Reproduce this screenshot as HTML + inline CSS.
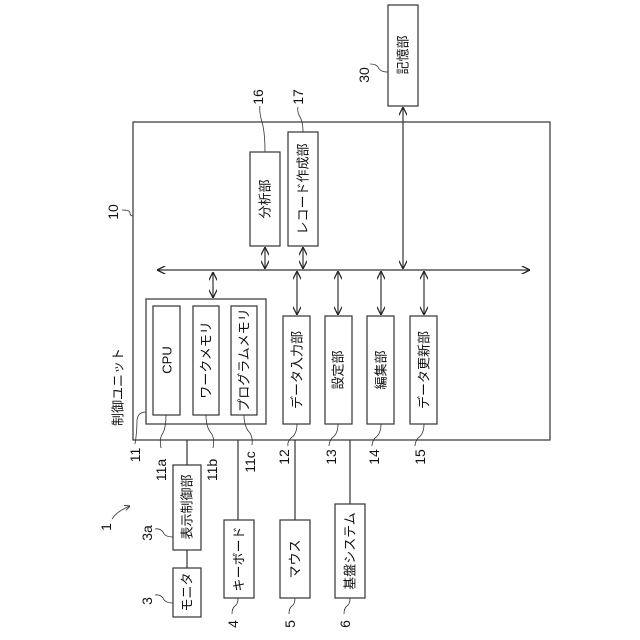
<!DOCTYPE html>
<html><head><meta charset="utf-8"><style>
html,body{margin:0;padding:0;background:#fff;}
svg{display:block;}
text{font-family:"Liberation Sans","Noto Sans CJK JP",sans-serif;fill:#111;}
.b{font-size:13px;}
.n{font-size:14px;}
</style></head><body>
<svg width="640" height="640" viewBox="0 0 640 640" xmlns="http://www.w3.org/2000/svg">
<defs>
<marker id="a" viewBox="0 0 10 10" refX="10" refY="5" markerWidth="7" markerHeight="7" orient="auto-start-reverse"><path d="M0,0 L10,5 L0,10" fill="none" stroke="#222" stroke-width="1.5"/></marker>
</defs>
<g fill="none" stroke="#333" stroke-width="1.2">
<rect x="133" y="122" width="417" height="318"/>
<rect x="146" y="299" width="120" height="125"/>
<rect x="153" y="306" width="27" height="109"/>
<rect x="193" y="306" width="26" height="109"/>
<rect x="231" y="306" width="26" height="109"/>
<rect x="283" y="316" width="27" height="108"/>
<rect x="325" y="316" width="27" height="108"/>
<rect x="367" y="316" width="27" height="108"/>
<rect x="410" y="316" width="27" height="108"/>
<rect x="250" y="152" width="30" height="94"/>
<rect x="288" y="132" width="30" height="114"/>
<rect x="388" y="5" width="30" height="101"/>
<rect x="173" y="465" width="28" height="85"/>
<rect x="173" y="568" width="28" height="49"/>
<rect x="224" y="520" width="30" height="78"/>
<rect x="280" y="520" width="30" height="78"/>
<rect x="335" y="504" width="30" height="94"/>
<!-- bus -->
<line x1="157" y1="270" x2="530" y2="270" marker-start="url(#a)" marker-end="url(#a)"/>
<line x1="213" y1="272" x2="213" y2="298" marker-start="url(#a)" marker-end="url(#a)"/>
<line x1="265" y1="247" x2="265" y2="269" marker-start="url(#a)" marker-end="url(#a)"/>
<line x1="303" y1="247" x2="303" y2="269" marker-start="url(#a)" marker-end="url(#a)"/>
<line x1="297" y1="271" x2="297" y2="315" marker-start="url(#a)" marker-end="url(#a)"/>
<line x1="338" y1="271" x2="338" y2="315" marker-start="url(#a)" marker-end="url(#a)"/>
<line x1="381" y1="271" x2="381" y2="315" marker-start="url(#a)" marker-end="url(#a)"/>
<line x1="424" y1="271" x2="424" y2="315" marker-start="url(#a)" marker-end="url(#a)"/>
<line x1="403" y1="107" x2="403" y2="269" marker-start="url(#a)" marker-end="url(#a)"/>
<!-- external lines -->
<line x1="187" y1="440" x2="187" y2="465"/>
<line x1="187" y1="550" x2="187" y2="568"/>
<line x1="238" y1="440" x2="238" y2="520"/>
<line x1="295" y1="440" x2="295" y2="520"/>
<line x1="350" y1="440" x2="350" y2="504"/>
<!-- leaders -->
<path d="M146,412 q-8,0 -9,8 q0,12 -2,24" stroke-width="0.8"/>
<path d="M166,415 q0,12 -3,18 q-4,5 -2,15" stroke-width="0.8"/>
<path d="M206,415 q0,12 5,18 q4,5 2,15" stroke-width="0.8"/>
<path d="M244,415 q0,12 6,18 q3,5 2,12" stroke-width="0.8"/>
<path d="M297,424 q0,10 -6,14 q-4,4 -3,8" stroke-width="0.8"/>
<path d="M338,424 q0,10 -6,14 q-3,4 -3,8" stroke-width="0.8"/>
<path d="M381,424 q0,10 -6,14 q-3,4 -3,8" stroke-width="0.8"/>
<path d="M424,424 q0,10 -6,14 q-3,4 -3,8" stroke-width="0.8"/>
<path d="M265,152 q0,-20 -3,-30 q-3,-10 -2,-16" stroke-width="0.8"/>
<path d="M303,132 q0,-10 -3,-15 q-3,-5 -2,-10" stroke-width="0.8"/>
<path d="M388,72 q-8,0 -10,-5 q-2,-3 -8,-3" stroke-width="0.8"/>
<path d="M122,210 q8,0 8,3 q0,3 3,3" stroke-width="0.8"/>
<path d="M173,537 q-8,0 -10,-5 q-3,-4 -8,-3" stroke-width="0.8"/>
<path d="M173,603 q-8,0 -10,-5 q-3,-4 -8,-3" stroke-width="0.8"/>
<path d="M238,598 q0,6 -3,8 q-3,2 -3,8" stroke-width="0.8"/>
<path d="M295,598 q0,6 -3,8 q-3,2 -3,8" stroke-width="0.8"/>
<path d="M350,598 q0,6 -3,8 q-3,2 -3,8" stroke-width="0.8"/>
<path d="M112,519 q5,-8 18,-13" stroke-width="0.8" marker-end="url(#a)"/>
</g>
<g text-anchor="middle" dominant-baseline="central">
<text class="b" transform="translate(167,360) rotate(-90)">CPU</text>
<text class="b" transform="translate(206,360) rotate(-90)">ワークメモリ</text>
<text class="b" transform="translate(244,360) rotate(-90)">プログラムメモリ</text>
<text class="b" transform="translate(297,370) rotate(-90)">データ入力部</text>
<text class="b" transform="translate(338,370) rotate(-90)">設定部</text>
<text class="b" transform="translate(381,370) rotate(-90)">編集部</text>
<text class="b" transform="translate(424,370) rotate(-90)">データ更新部</text>
<text class="b" transform="translate(265,199) rotate(-90)">分析部</text>
<text class="b" transform="translate(303,189) rotate(-90)">レコード作成部</text>
<text class="b" transform="translate(403,55) rotate(-90)">記憶部</text>
<text class="b" transform="translate(187,507) rotate(-90)">表示制御部</text>
<text class="b" transform="translate(187,592) rotate(-90)">モニタ</text>
<text class="b" transform="translate(239,559) rotate(-90)">キーボード</text>
<text class="b" transform="translate(295,559) rotate(-90)">マウス</text>
<text class="b" transform="translate(350,551) rotate(-90)">基盤システム</text>
<text class="b" transform="translate(118,387) rotate(-90)">制御ユニット</text>
<text class="n" transform="translate(135,455) rotate(-90)">11</text>
<text class="n" transform="translate(161,470) rotate(-90)">11a</text>
<text class="n" transform="translate(212,470) rotate(-90)">11b</text>
<text class="n" transform="translate(250,462) rotate(-90)">11c</text>
<text class="n" transform="translate(284,457) rotate(-90)">12</text>
<text class="n" transform="translate(331,457) rotate(-90)">13</text>
<text class="n" transform="translate(374,457) rotate(-90)">14</text>
<text class="n" transform="translate(420,457) rotate(-90)">15</text>
<text class="n" transform="translate(258,97) rotate(-90)">16</text>
<text class="n" transform="translate(298,97) rotate(-90)">17</text>
<text class="n" transform="translate(364,75) rotate(-90)">30</text>
<text class="n" transform="translate(113,212) rotate(-90)">10</text>
<text class="n" transform="translate(106,527) rotate(-90)">1</text>
<text class="n" transform="translate(147,533) rotate(-90)">3a</text>
<text class="n" transform="translate(147,601) rotate(-90)">3</text>
<text class="n" transform="translate(233,624) rotate(-90)">4</text>
<text class="n" transform="translate(290,624) rotate(-90)">5</text>
<text class="n" transform="translate(345,624) rotate(-90)">6</text>
</g>
</svg>
</body></html>
